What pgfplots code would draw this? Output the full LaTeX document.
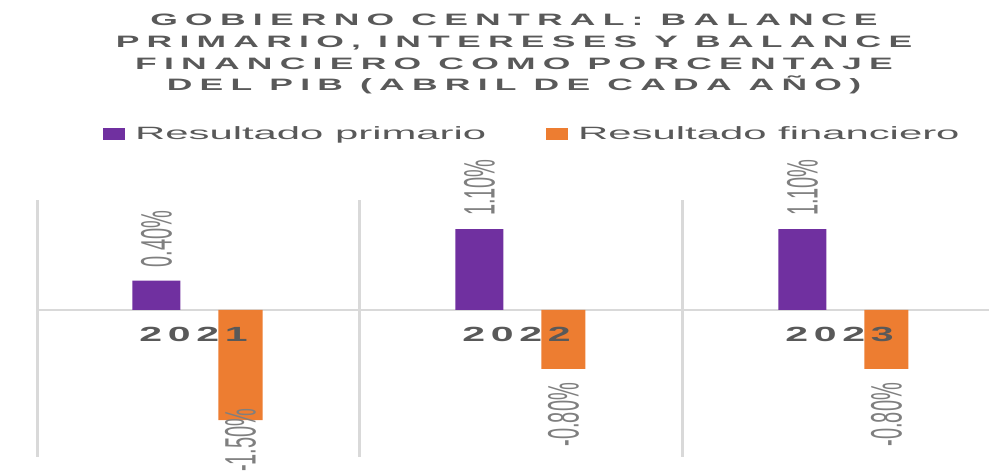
\documentclass[border=0pt]{standalone}
\usepackage{pgfplots}
\pgfplotsset{compat=1.18}
\usepackage{fontspec}
\setmainfont{Liberation Sans}
\newfontfamily\wfont{Liberation Sans}[FakeStretch=2.35]
\newfontfamily\tfont{Liberation Sans}[FakeStretch=2.15,LetterSpace=44]
\newfontfamily\yfont{Liberation Sans}[FakeStretch=2.0,LetterSpace=28]
\definecolor{cpurple}{HTML}{7030A0}
\definecolor{corange}{HTML}{ED7D31}
\definecolor{cgrid}{HTML}{D9D9D9}
\definecolor{ctext}{HTML}{595959}
\definecolor{clabel}{HTML}{7F7F7F}
\newcommand{\vlab}[1]{\rotatebox{90}{\scalebox{1}[2.2]{\fontsize{20}{24}\selectfont\normalfont #1}}}
\begin{document}
\begin{tikzpicture}
\useasboundingbox (-37pt,-16pt) rectangle (952pt,457pt);
\node[anchor=north, align=center, inner sep=0pt, text=ctext,
  font=\fontsize{16.5}{21.7}\selectfont\tfont\bfseries] at (477pt,443pt)
  {GOBIERNO CENTRAL: BALANCE\\PRIMARIO, INTERESES Y BALANCE\\FINANCIERO COMO PORCENTAJE\\DEL PIB (ABRIL DE CADA AÑO)};
\begin{axis}[
  at={(0pt,0pt)}, anchor=south west,
  scale only axis, width=952pt, height=257pt,
  xmin=-0.5, xmax=2.4474, ymin=-2.0, ymax=1.4966,
  axis x line=middle, axis y line=none,
  x axis line style={draw=cgrid, line width=2pt, -},
  every inner x axis line/.append style={-},
  every outer x axis line/.append style={-},
  xtick={0,1,2}, xticklabels={},
  major tick length=0pt, minor tick length=0pt,
  minor xtick={-0.5,0.5,1.5},
  xminorgrids, minor x grid style={draw=cgrid, line width=3pt},
  ytick=\empty,
  ybar, clip=false,
  /pgf/number format/assume math mode=true,
  nodes near coords={\vlab{\pgfmathprintnumber[fixed,fixed zerofill,precision=2]{\pgfplotspointmeta}\%}},
  nodes near coords align={vertical},
  every node near coord/.append style={inner sep=0pt, text=clabel},
  legend style={draw=none, fill=none, at={(axis description cs:0.0693,1.2568)}, anchor=west,
    font=\fontsize{17.8}{20}\selectfont\wfont, text=ctext, inner sep=0pt,
    nodes={inner sep=0pt},
    /tikz/every odd column/.append style={column sep=10pt},
    /tikz/every even column/.append style={column sep=60pt}},
  legend columns=2, legend cell align=left,
]
\addplot[fill=cpurple, draw=none, bar width=48pt, bar shift=-42pt,
  every node near coord/.append style={yshift=13pt},
  legend image code/.code={\fill[cpurple] (0pt,-6pt) rectangle (22pt,6pt);}]
  coordinates {(0,0.4) (1,1.1) (2,1.1)};
\addplot[fill=corange, draw=none, bar width=44pt, bar shift=42pt,
  every node near coord/.append style={yshift=-14pt},
  coordinate style/.condition={\coordindex==0}{yshift=26pt},
  legend image code/.code={\fill[corange] (0pt,-6pt) rectangle (22pt,6pt);}]
  coordinates {(0,-1.5) (1,-0.8) (2,-0.8)};
\legend{Resultado primario, Resultado financiero}
\foreach \i/\yr in {0/2021,1/2022,2/2023}{
  \edef\tmp{\noexpand\node[anchor=north, inner sep=0pt, text=ctext,
    font=\noexpand\fontsize{20.5}{24}\noexpand\selectfont\noexpand\yfont\noexpand\bfseries,
    yshift=-17pt, xshift=-5pt] at (axis cs:\i,0) {\yr};}
  \tmp
}
\end{axis}
\end{tikzpicture}
\end{document}
